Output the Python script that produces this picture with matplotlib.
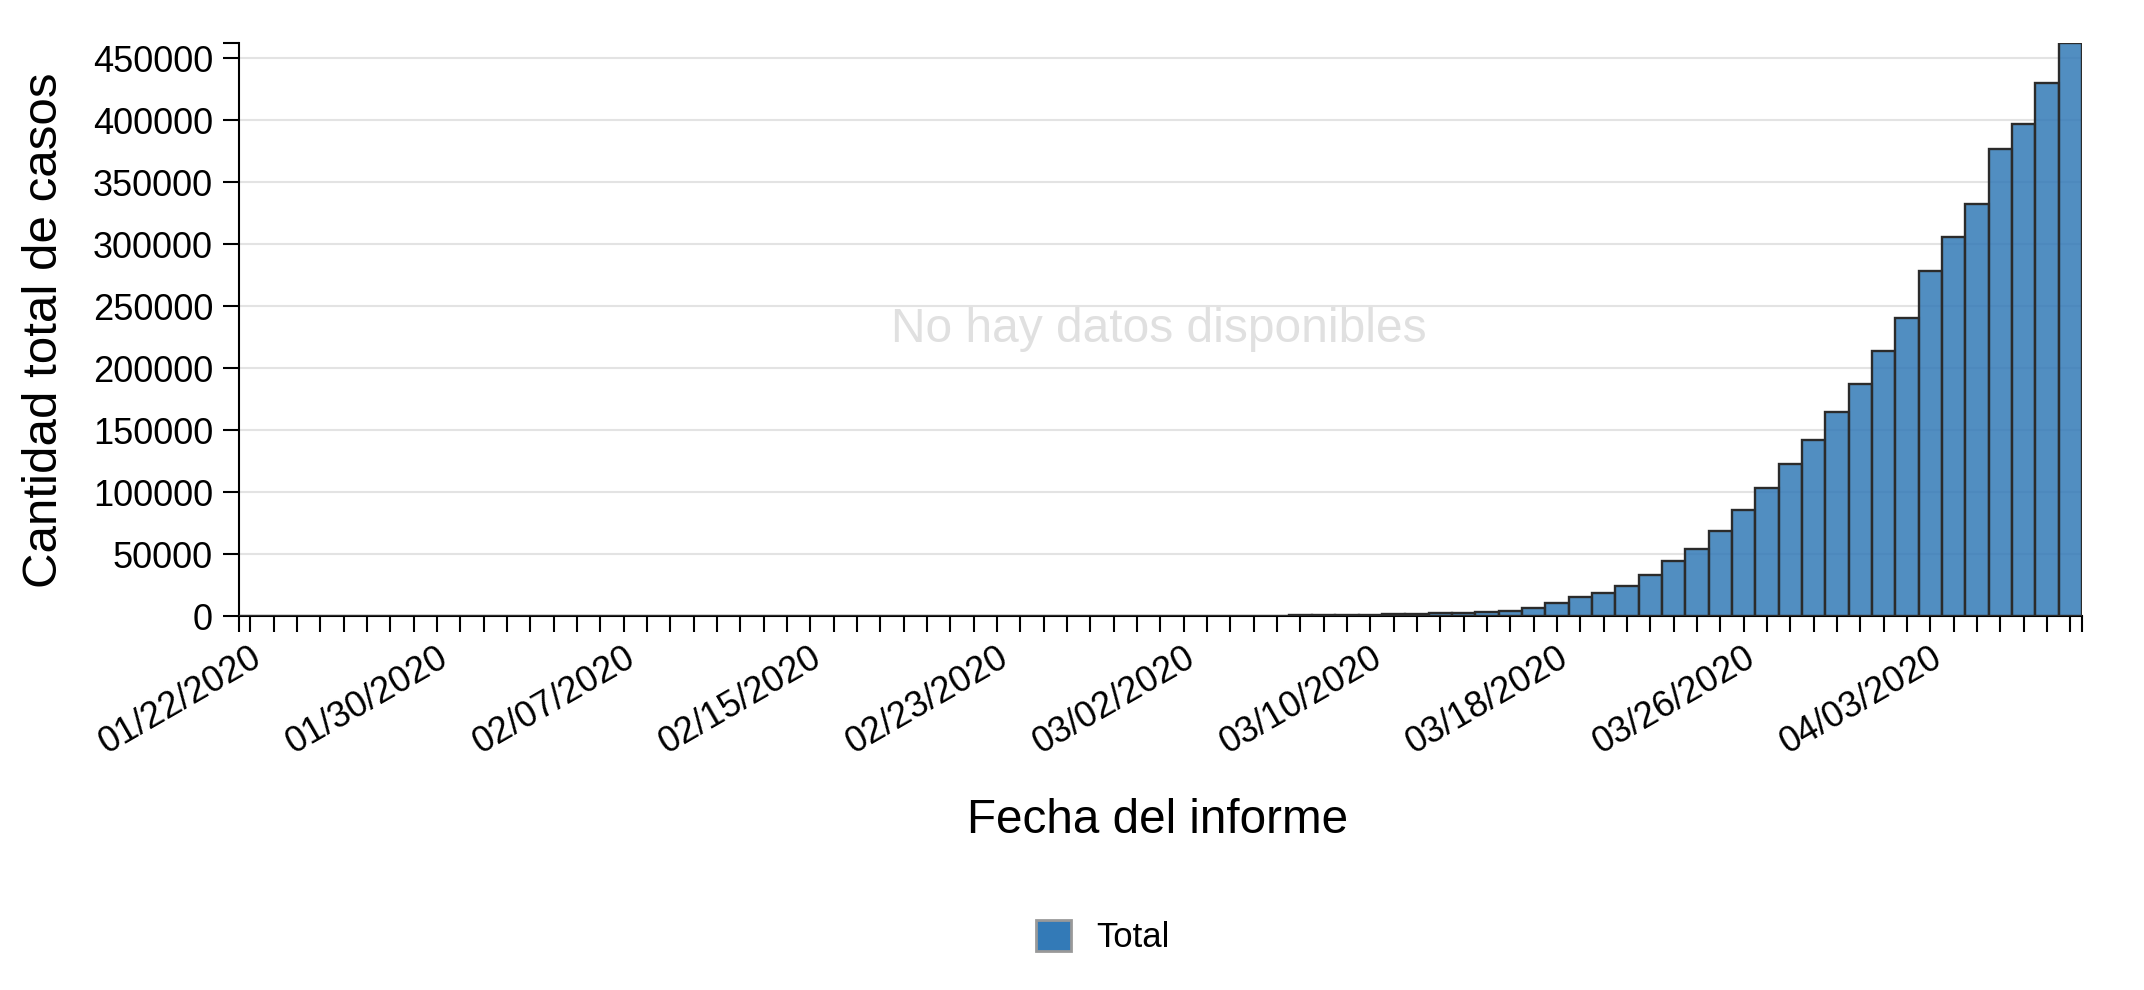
import numpy as np
import pandas as pd
import matplotlib
matplotlib.use('Agg')
import matplotlib.pyplot as plt
import matplotlib.colors as mcolors
from matplotlib.patches import Patch
from matplotlib.transforms import ScaledTranslation

# dias del informe, 01/22/2020 .. 04/09/2020
fechas = pd.date_range('2020-01-22', '2020-04-09', freq='D').strftime('%m/%d/%Y').tolist()

# casos totales
casos_ene = [1, 1, 2, 2, 5, 5, 5, 5, 5, 6]
casos_feb = [8, 8, 11, 11, 11, 11, 11, 11, 11, 11,
             12, 12, 13, 13, 15, 15, 15, 15, 15, 15,
             15, 15, 51, 51, 57, 58, 60, 60, 62]
casos_mar = [70, 100, 120, 160, 220, 320, 420, 540, 700, 1000,
             1300, 1700, 2200, 2800, 2900, 3800, 6500, 10200, 15000, 18400,
             24600, 33100, 44000, 53900, 68300, 85700, 103400, 122900, 141600, 164200,
             187000]
casos_abr = [214000, 240300, 278500, 306100, 332400, 376800, 397300, 429700, 462100]
casos = casos_ene + casos_feb + casos_mar + casos_abr

y_ticks = list(range(0, 450001, 50000))
paso_etiqueta = 8

plt.rcParams['font.family'] = ['Liberation Sans', 'DejaVu Sans']

def main():
    fig = plt.figure(figsize=(21.44, 9.9), dpi=100)
    ax = fig.add_axes([238.7 / 2144, 1 - 616 / 990, (2082 - 238.7) / 2144, (616 - 43.2) / 990])

    x = np.arange(len(casos))
    color = '#337ab7'
    ax.bar(x, casos, width=1.0, color=mcolors.to_rgba(color, 0.85),
           edgecolor='#2b2b2b', linewidth=1.7, zorder=3)

    ax.set_xlim(-0.5, len(casos) - 0.5)
    ax.set_ylim(0, max(casos))

    ax.set_yticks(y_ticks)
    ax.set_yticklabels([str(v) for v in y_ticks], fontsize=26)
    ax.set_yticks([max(casos)], minor=True)
    for v in y_ticks[1:]:
        ax.axhline(v, color='#e3e3e3', linewidth=1.5, zorder=1)

    ax.set_xticks(x)
    labels = [f if i % paso_etiqueta == 0 else '' for i, f in enumerate(fechas)]
    ax.set_xticklabels(labels, fontsize=26, rotation=30, ha='right', va='top',
                       rotation_mode='anchor')
    ax.set_xticks([-0.5, len(casos) - 0.5], minor=True)
    offset = ScaledTranslation(10 / 100, 0, fig.dpi_scale_trans)
    for lab in ax.get_xticklabels():
        lab.set_transform(lab.get_transform() + offset)

    ax.tick_params(axis='both', which='both', direction='out', length=11.5, width=1.5,
                   color='black', labelcolor='black')
    ax.tick_params(axis='y', pad=7)
    ax.tick_params(axis='x', pad=6)

    for s in ['top', 'right']:
        ax.spines[s].set_visible(False)
    for s in ['left', 'bottom']:
        ax.spines[s].set_linewidth(1.5)
        ax.spines[s].set_color('black')

    fig.text(1159 / 2144, 1 - 342 / 990, 'No hay datos disponibles', fontsize=34.5,
             color='#e0e0e0', ha='center', va='baseline')

    fig.text(57 / 2144, 1 - 330 / 990, 'Cantidad total de casos', fontsize=35.5,
             rotation=90, ha='center', va='baseline', rotation_mode='anchor')
    fig.text(1158 / 2144, 1 - 833 / 990, 'Fecha del informe', fontsize=34.3,
             ha='center', va='baseline')

    handle = Patch(facecolor=color, edgecolor='#999999', linewidth=2)
    fig.legend([handle], ['Total'], loc='center', bbox_to_anchor=(1103 / 2144, 1 - 937 / 990),
               frameon=False, fontsize=25, handlelength=1.0, handleheight=1.0,
               handletextpad=0.72)

    fig.savefig('out.png', dpi=100)
    return

main()
